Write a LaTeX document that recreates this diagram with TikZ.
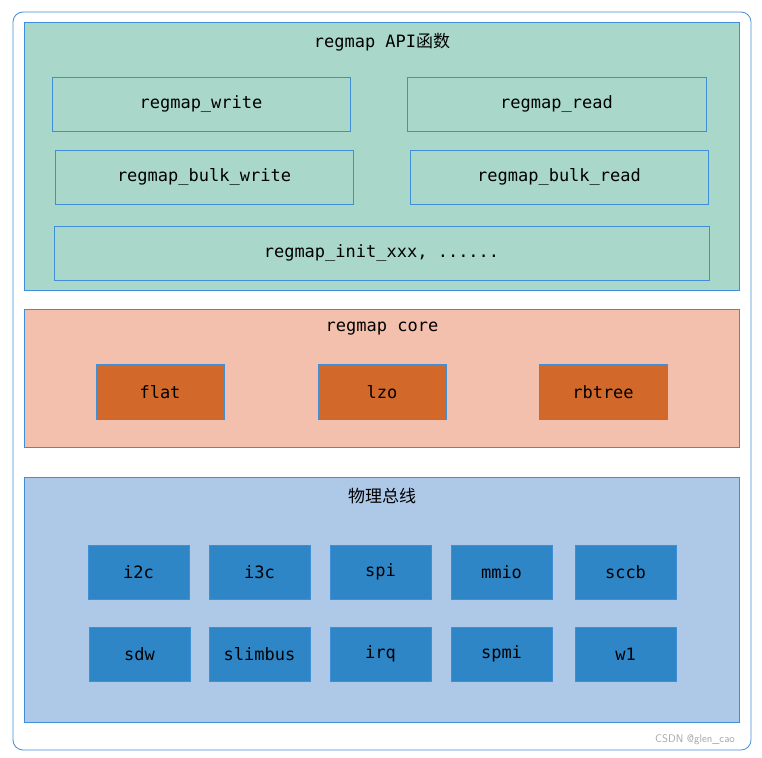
\documentclass[tikz,border=0pt]{standalone}
\usepackage{fontspec}
\setmonofont{DejaVu Sans Mono}
\newfontfamily\cjk{Noto Sans CJK SC}
\definecolor{edge}{HTML}{3F8FD8}
\definecolor{apig}{HTML}{A9D8CA}
\definecolor{corep}{HTML}{F4C0AE}
\definecolor{coreb}{HTML}{D2692B}
\definecolor{busb}{HTML}{AEC8E8}
\definecolor{busn}{HTML}{2E86C6}
\begin{document}
\begin{tikzpicture}[x=1pt,y=-1pt,
  lay/.style={draw=edge,line width=0.8pt},
  box/.style={draw=edge,line width=0.8pt,font=\ttfamily\fontsize{17}{20}\selectfont},
  txt/.style={font=\ttfamily\fontsize{17}{20}\selectfont,inner sep=0pt},
  bx/.style args={#1/#2/#3/#4/#5}{}]
\useasboundingbox (0,0) rectangle (762,757);
\fill[white] (0,0) rectangle (762,757);
\draw[edge,line width=0.8pt,rounded corners=10pt] (13,12) rectangle (751,750);
% API layer
\filldraw[lay,fill=apig] (24,22) rectangle (739,290);
\node[txt] (t1) at (382,42) {regmap API{\cjk 函数}};
\foreach \n/\a/\b/\c/\d/\s in {w/52/77/350/131/regmap\_write, r/407/77/706/131/regmap\_read, bw/55/150/353/204/regmap\_bulk\_write, br/410/150/708/204/regmap\_bulk\_read, ini/54/226/709/280/{regmap\_init\_xxx, ......}}{
  \draw[lay] (\a,\b) rectangle (\c,\d);
  \node[txt] (\n) at ({(\a+\c)/2},{(\b+\d)/2}) {\s};
}
% core layer
\filldraw[lay,fill=corep] (24,309) rectangle (739,447);
\node[txt] (t2) at (382,329) {regmap core};
\foreach \n/\a/\s in {flat/96/flat, lzo/318/lzo, rb/539/rbtree}{
  \filldraw[lay,fill=coreb] (\a,364) rectangle (\a+128,419);
  \node[txt] (\n) at (\a+64,392) {\s};
}
% bus layer
\filldraw[lay,fill=busb] (24,477) rectangle (739,722);
\node[font=\cjk\fontsize{17}{20}\selectfont,inner sep=0pt] (t3) at (382,496) {物理总线};
\foreach \n/\a/\s in {i2c/88/i2c, i3c/209/i3c, spi/330/spi, mmio/451/mmio, sccb/575/sccb}{
  \filldraw[lay,fill=busn] (\a,545) rectangle (\a+101,599);
  \node[txt] (\n) at (\a+50.5,572) {\s};
}
\foreach \n/\a/\s in {sdw/89/sdw, sli/209/slimbus, irq/330/irq, spmi/451/spmi, wone/575/w1}{
  \filldraw[lay,fill=busn] (\a,627) rectangle (\a+101,681);
  \node[txt] (\n) at (\a+50.5,654) {\s};
}
\node[font=\sffamily\fontsize{11}{13}\selectfont,text=gray!70,inner sep=0pt] (wm) at (695,740) {CSDN @glen\_cao};
\end{tikzpicture}
\end{document}
